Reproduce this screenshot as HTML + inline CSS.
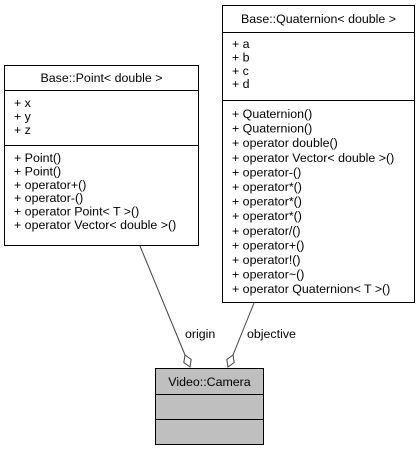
<!DOCTYPE html>
<html><head><meta charset="utf-8"><style>
html,body{margin:0;padding:0;background:#fff;}
svg{display:block;}
text{font-family:"Liberation Sans",sans-serif;font-size:12.4px;fill:#000;}
</style></head><body>
<svg width="420" height="451" viewBox="0 0 420 451" xmlns="http://www.w3.org/2000/svg">
<!-- Point box -->
<rect x="4.5" y="65.5" width="194" height="180" fill="#fff" stroke="#000"/>
<line x1="4.5" y1="90.5" x2="198.5" y2="90.5" stroke="#000"/>
<line x1="4.5" y1="145.5" x2="198.5" y2="145.5" stroke="#000"/>
<text x="101.5" y="82" text-anchor="middle">Base::Point&lt; double &gt;</text>
<text x="14" y="107">+ x</text>
<text x="14" y="120.4">+ y</text>
<text x="14" y="133.8">+ z</text>
<text x="14" y="162">+ Point()</text>
<text x="14" y="175.4">+ Point()</text>
<text x="14" y="188.8">+ operator+()</text>
<text x="14" y="202.2">+ operator-()</text>
<text x="14" y="215.6">+ operator Point&lt; T &gt;()</text>
<text x="14" y="229">+ operator Vector&lt; double &gt;()</text>
<!-- Quaternion box -->
<rect x="222.5" y="5.5" width="192" height="297" fill="#fff" stroke="#000"/>
<line x1="222.5" y1="32.5" x2="414.5" y2="32.5" stroke="#000"/>
<line x1="222.5" y1="100.5" x2="414.5" y2="100.5" stroke="#000"/>
<text x="318.5" y="23" text-anchor="middle">Base::Quaternion&lt; double &gt;</text>
<text x="232" y="48">+ a</text>
<text x="232" y="61.4">+ b</text>
<text x="232" y="74.8">+ c</text>
<text x="232" y="88.2">+ d</text>
<text x="232" y="118">+ Quaternion()</text>
<text x="232" y="132.6">+ Quaternion()</text>
<text x="232" y="147.2">+ operator double()</text>
<text x="232" y="161.8">+ operator Vector&lt; double &gt;()</text>
<text x="232" y="176.4">+ operator-()</text>
<text x="232" y="191">+ operator*()</text>
<text x="232" y="205.6">+ operator*()</text>
<text x="232" y="220.2">+ operator*()</text>
<text x="232" y="234.8">+ operator/()</text>
<text x="232" y="249.4">+ operator+()</text>
<text x="232" y="264">+ operator!()</text>
<text x="232" y="278.6">+ operator~()</text>
<text x="232" y="293.2">+ operator Quaternion&lt; T &gt;()</text>
<!-- Camera box -->
<rect x="155.5" y="368.5" width="108" height="76" fill="#bfbfbf" stroke="#000"/>
<line x1="155.5" y1="394.5" x2="263.5" y2="394.5" stroke="#000"/>
<line x1="155.5" y1="419.5" x2="263.5" y2="419.5" stroke="#000"/>
<text x="209.5" y="386" text-anchor="middle">Video::Camera</text>
<!-- edges -->
<line x1="140" y1="246" x2="185" y2="355" stroke="#404040"/>
<polygon points="185,355 191.2,359.5 190,367 183.8,362.5" fill="#fff" stroke="#404040"/>
<line x1="254" y1="303" x2="233" y2="355" stroke="#404040"/>
<polygon points="233,355 234.2,362.5 228,367 226.8,359.5" fill="#fff" stroke="#404040"/>
<text x="185" y="338">origin</text>
<text x="247" y="338">objective</text>
</svg>
</body></html>
